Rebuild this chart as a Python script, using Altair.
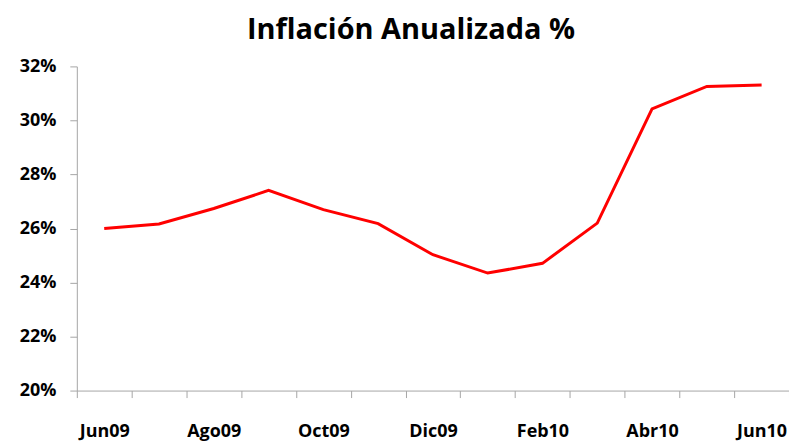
import altair as alt
import pandas as pd

months = ["Jun09", "Jul09", "Ago09", "Sep09", "Oct09", "Nov09", "Dic09",
          "Ene10", "Feb10", "Mar10", "Abr10", "May10", "Jun10"]
inflation = [26.0, 26.17, 26.74, 27.41, 26.7, 26.18, 25.03,
             24.35, 24.71, 26.2, 30.43, 31.26, 31.31]
shown_labels = ["Jun09", "Ago09", "Oct09", "Dic09", "Feb10", "Abr10", "Jun10"]
y_ticks = [0.20, 0.22, 0.24, 0.26, 0.28, 0.30, 0.32]

df = pd.DataFrame({
    "idx": list(range(len(months))),
    "month": months,
    "value": [v / 100 for v in inflation],
})

n = len(months)
tick_vals = [i - 0.5 for i in range(n + 1)] + [i for i in range(n)]
label_map = "[" + ",".join("'" + (m if m in shown_labels else "") + "'" for m in months) + "]"
label_expr = f"datum.value % 1 == 0 ? {label_map}[datum.value] : ''"

FONT = "Open Sans"

chart = alt.Chart(df).mark_line(color="#ff0000", strokeWidth=3).encode(
    x=alt.X("idx:Q",
            scale=alt.Scale(domain=[-0.5, n - 0.5], nice=False, zero=False),
            axis=alt.Axis(values=tick_vals, title=None, grid=False,
                          labelExpr=label_expr, labelOverlap=False,
                          labelFont=FONT, labelFontWeight="bold", labelFontSize=18,
                          labelColor="#000000", labelPadding=25,
                          tickSize=7, tickColor={"condition": {"test": "datum.value % 1 == 0", "value": "transparent"}, "value": "#a6a6a6"},
                          domainColor="#a6a6a6", tickWidth=1, domainWidth=1)),
    y=alt.Y("value:Q",
            scale=alt.Scale(domain=[0.20, 0.32], nice=False, zero=False),
            axis=alt.Axis(values=y_ticks, format=".0%", title=None, grid=False,
                          labelFont=FONT, labelFontWeight="bold", labelFontSize=18,
                          labelColor="#000000", labelPadding=14,
                          tickSize=7, tickColor="#a6a6a6", domainColor="#a6a6a6")),
).properties(
    width=714,
    height=325,
    autosize=alt.AutoSizeParams(type="none"),
    padding={"left": 69, "top": 58, "right": 0, "bottom": 52},
    title=alt.TitleParams("Inflación Anualizada %", font=FONT, fontSize=29,
                          fontWeight="bold", color="#000000", anchor="middle",
                          dx=-22, offset=12),
).configure_view(stroke=None)

chart.save("out.html", embed_options={"renderer": "svg", "actions": False})
